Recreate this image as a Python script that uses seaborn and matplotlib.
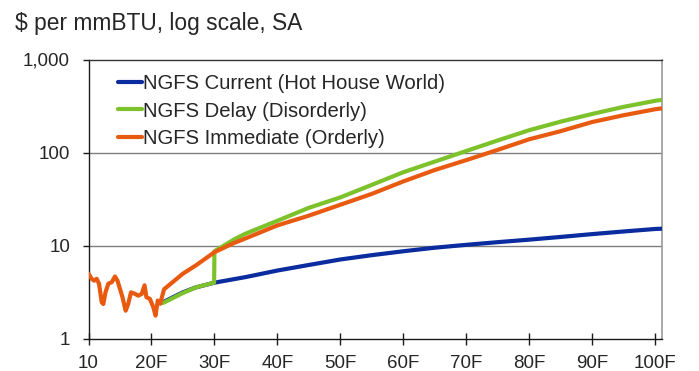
import matplotlib
matplotlib.use("Agg")
import matplotlib.pyplot as plt
import seaborn as sns
import pandas as pd
from matplotlib.ticker import FixedLocator, NullLocator

# ---- data ----
hist_years = [10.0, 10.5, 10.9, 11.3, 11.67, 12.1, 12.35, 12.7, 13.15, 13.7, 14.2, 14.6,
              15.0, 15.4, 15.9, 16.3, 16.75, 17.4, 17.9, 18.45, 18.9, 19.2, 19.75,
              20.3, 20.65, 21.0, 21.4]
hist_price = [5.0, 4.4, 4.2, 4.4, 3.9, 2.46, 2.36, 3.15, 3.9, 4.05, 4.66, 4.2,
              3.43, 2.79, 2.0, 2.36, 3.15, 3.03, 2.9, 3.03, 3.75, 2.79, 2.68,
              2.17, 1.77, 2.57, 2.4]

scn_years = [21.4, 22, 25, 27, 30, 33, 35, 40, 45, 50, 55, 60, 65, 70, 75, 80, 85, 90, 95, 100, 101]
current = [2.4, 2.5, 3.15, 3.55, 4.0, 4.35, 4.6, 5.4, 6.2, 7.1, 7.9, 8.7, 9.5, 10.2, 10.9, 11.6,
           12.4, 13.3, 14.2, 15.1, 15.2]
immediate = [2.4, 3.4, 5.0, 6.1, 8.5, 10.6, 12.0, 16.5, 21.0, 27.5, 36.0, 49.0, 65.0, 83.0, 107.0,
             139.0, 170.0, 213.0, 252.0, 292.0, 298.0]

delay_years = [21.4, 22, 25, 27, 29.95, 30.0, 33.25, 35, 40, 45, 50, 55, 60, 65, 70, 75, 80, 85,
               90, 95, 100, 101]
delay = [2.4, 2.45, 3.1, 3.55, 4.0, 8.7, 11.8, 13.5, 18.5, 25.5, 33.0, 45.0, 61.5, 80.0, 104.0,
         135.0, 174.0, 215.0, 260.0, 310.0, 360.0, 368.0]

x_ticks = [10, 20, 30, 40, 50, 60, 70, 80, 90, 100]
x_labels = ["10", "20F", "30F", "40F", "50F", "60F", "70F", "80F", "90F", "100F"]
y_ticks = [1, 10, 100, 1000]
y_labels = ["1", "10", "100", "1,000"]

series_names = ["NGFS Current (Hot House World)", "NGFS Delay (Disorderly)", "NGFS Immediate (Orderly)"]
colors = ["#0B2C9E", "#7DC22B", "#E85A10"]

# ---- style ----
sns.set_style("white")
plt.rcParams["font.family"] = ["Liberation Sans", "DejaVu Sans"]
text_color = "#262626"

fig = plt.figure(figsize=(6.99, 3.71), dpi=100)
ax = fig.add_axes([88.5 / 699, 1 - 338.7 / 371, (661.5 - 88.5) / 699, (338.7 - 59.5) / 371])

lw = 3.0
cur_df = pd.DataFrame({"year": scn_years, "price": current})
del_df = pd.DataFrame({"year": delay_years, "price": delay})
imm_df = pd.DataFrame({"year": scn_years, "price": immediate})
hist_df = pd.DataFrame({"year": hist_years, "price": hist_price})

sns.lineplot(data=cur_df, x="year", y="price", ax=ax, color=colors[0], linewidth=lw,
             label=series_names[0], estimator=None, sort=False, zorder=3)
sns.lineplot(data=del_df, x="year", y="price", ax=ax, color=colors[1], linewidth=lw,
             label=series_names[1], estimator=None, sort=False, zorder=4)
sns.lineplot(data=imm_df, x="year", y="price", ax=ax, color=colors[2], linewidth=lw,
             label=series_names[2], estimator=None, sort=False, zorder=5)
sns.lineplot(data=hist_df, x="year", y="price", ax=ax, color=colors[2], linewidth=lw,
             estimator=None, sort=False, zorder=6)

ax.set_yscale("log")
ax.set_ylim(1, 1000)
ax.set_xlim(10, 101)
ax.yaxis.set_major_locator(FixedLocator(y_ticks))
ax.yaxis.set_minor_locator(NullLocator())
ax.set_yticklabels(y_labels)
ax.set_xticks(x_ticks)
ax.set_xticklabels(x_labels)
ax.set_xlabel("")
ax.set_ylabel("")

# gridlines at 10 and 100
for v in [10, 100]:
    ax.axhline(v, color="#7f7f7f", linewidth=1.0, zorder=1)

for side in ["left", "bottom"]:
    ax.spines[side].set_color("#1a1a1a")
    ax.spines[side].set_linewidth(1.0)
ax.spines["top"].set_color("#333333")
ax.spines["top"].set_linewidth(1.0)
ax.spines["right"].set_color("#999999")
ax.spines["right"].set_linewidth(1.2)

ax.tick_params(axis="y", direction="out", length=4.3, width=1.0, color="#1a1a1a",
               labelsize=13.5, labelcolor=text_color, pad=9, left=True)
ax.tick_params(axis="x", direction="inout", length=8.4, width=1.0, color="#1a1a1a",
               labelsize=13.5, labelcolor=text_color, pad=7.5, bottom=True)

leg = ax.legend(loc="upper left", bbox_to_anchor=(118 / 699, 1 - 74 / 371),
                bbox_transform=fig.transFigure, frameon=False, fontsize=14.6,
                handlelength=1.2, handletextpad=0.05, labelspacing=0.42, borderpad=0,
                borderaxespad=0)
for t in leg.get_texts():
    t.set_color(text_color)
for h in leg.legend_handles:
    h.set_linewidth(3.0)

fig.text(15 / 699, 1 - 30 / 371, "$ per mmBTU, log scale, SA", fontsize=16.4,
         color=text_color, ha="left", va="baseline")

fig.savefig("out.png", dpi=100)
